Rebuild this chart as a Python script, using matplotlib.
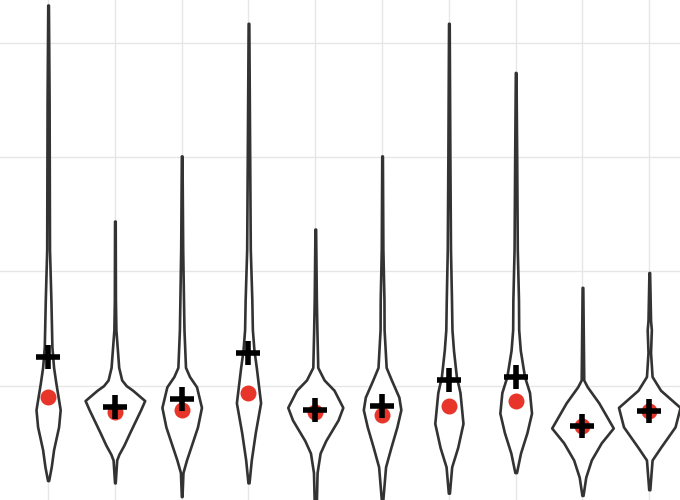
import matplotlib
matplotlib.use("Agg")
import matplotlib.pyplot as plt
import numpy as np

# Umrisse der Violinen: Stuetzstellen (Wert) und halbe Breite
groups = [1, 2, 3, 4, 5, 6, 7, 8, 9, 10]

profile_y = [
    [4.33, 3.50, 2.19, 1.75, 1.34, 1.16, 1.02, 0.79, 0.64, 0.44, 0.29, 0.17],
    [2.44, 1.75, 1.49, 1.16, 1.05, 1.00, 0.96, 0.87, 0.79, 0.59, 0.48, 0.40, 0.35, 0.15],
    [3.01, 2.19, 1.75, 1.49, 1.16, 1.08, 0.99, 0.81, 0.64, 0.52, 0.35, 0.24, 0.03],
    [4.17, 3.00, 2.19, 1.75, 1.49, 1.31, 1.16, 0.85, 0.59, 0.35, 0.15],
    [2.37, 1.75, 1.49, 1.16, 1.05, 0.96, 0.81, 0.70, 0.52, 0.41, 0.24, -0.04],
    [3.01, 2.19, 1.75, 1.49, 1.16, 1.05, 0.90, 0.79, 0.64, 0.46, 0.29, -0.02],
    [4.17, 3.00, 2.19, 1.75, 1.49, 1.31, 1.08, 0.94, 0.67, 0.46, 0.29, 0.06],
    [3.74, 3.00, 2.19, 1.75, 1.49, 1.31, 1.08, 0.94, 0.76, 0.59, 0.41, 0.24],
    [1.86, 1.05, 0.99, 0.85, 0.63, 0.50, 0.35, 0.20, 0.04],
    [1.99, 1.57, 1.49, 1.29, 1.08, 0.96, 0.81, 0.64, 0.46, 0.35, 0.09],
]
profile_hw = [
    [0.005, 0.015, 0.021, 0.042, 0.057, 0.082, 0.117, 0.181, 0.157, 0.082, 0.047, 0.008],
    [0.005, 0.008, 0.015, 0.057, 0.102, 0.170, 0.266, 0.446, 0.386, 0.222, 0.135, 0.060, 0.027, 0.005],
    [0.005, 0.015, 0.027, 0.034, 0.057, 0.117, 0.222, 0.296, 0.237, 0.169, 0.072, 0.019, 0.005],
    [0.005, 0.018, 0.027, 0.050, 0.058, 0.082, 0.117, 0.181, 0.102, 0.042, 0.008],
    [0.005, 0.016, 0.024, 0.037, 0.132, 0.281, 0.412, 0.341, 0.157, 0.072, 0.027, 0.015],
    [0.005, 0.012, 0.028, 0.030, 0.061, 0.139, 0.251, 0.281, 0.222, 0.132, 0.052, 0.008],
    [0.005, 0.015, 0.024, 0.039, 0.046, 0.069, 0.112, 0.166, 0.211, 0.132, 0.042, 0.008],
    [0.005, 0.015, 0.024, 0.042, 0.045, 0.069, 0.132, 0.207, 0.237, 0.169, 0.072, 0.012],
    [0.005, 0.019, 0.072, 0.244, 0.461, 0.281, 0.132, 0.049, 0.008],
    [0.005, 0.019, 0.031, 0.019, 0.042, 0.169, 0.461, 0.386, 0.169, 0.042, 0.008],
]

means = [1.25, 0.81, 0.88, 1.29, 0.79, 0.82, 1.05, 1.08, 0.65, 0.78]
medians = [0.90, 0.77, 0.79, 0.94, 0.77, 0.74, 0.82, 0.87, 0.65, 0.78]

fig = plt.figure(figsize=(6.8, 5), dpi=100)
ax = fig.add_axes([0, 0, 1, 1])

for g, ys, hws in zip(groups, profile_y, profile_hw):
    ys = np.array(ys)
    hws = np.array(hws)
    ax.fill_betweenx(ys, g - hws, g + hws, facecolor="white",
                     edgecolor="#333333", linewidth=1.9, zorder=2,
                     joinstyle="round")

# Median als roter Punkt, Mittelwert als Kreuz
ax.plot(groups, medians, "o", color="#e8352a", markersize=11.5,
        markeredgewidth=0, zorder=3)
ax.plot(groups, means, "+", color="black", markersize=17,
        markeredgewidth=4.0, zorder=4)

ax.set_xlim(0.28, 10.46)
ax.set_ylim(0, 4.374)
ax.set_xticks(groups)
ax.set_yticks([1, 2, 3, 4])
ax.grid(True, color="#e6e6e6", linewidth=1.0, zorder=0)
ax.set_axisbelow(True)
ax.tick_params(length=0, labelbottom=False, labelleft=False)
for s in ax.spines.values():
    s.set_visible(False)

fig.savefig("out.png", dpi=100)
